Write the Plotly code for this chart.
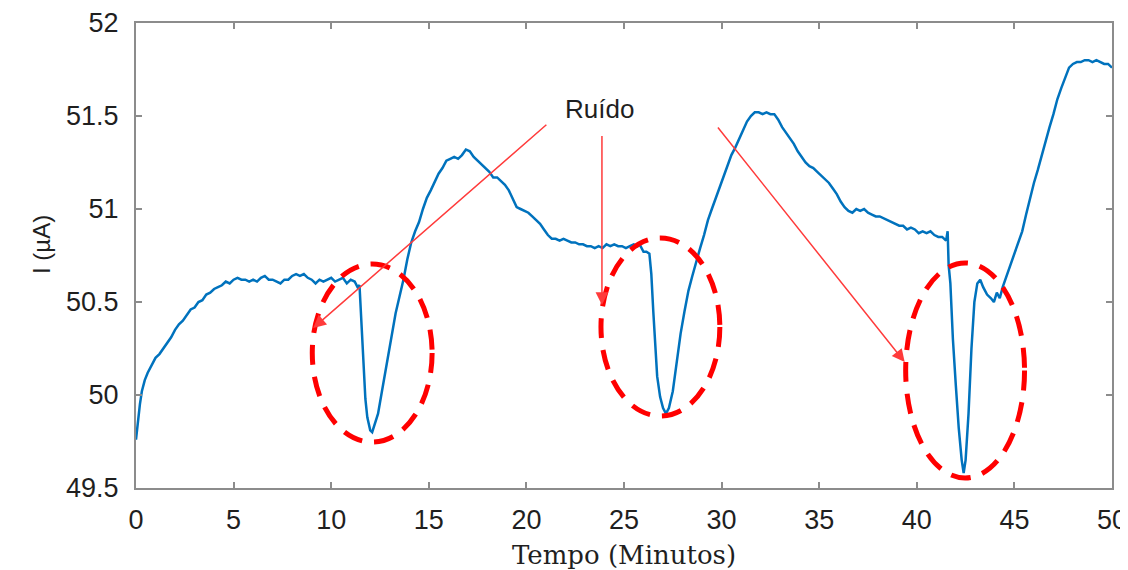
import plotly.graph_objects as go

# ---- data (time in minutes, current in µA) ----
tempo = [0, 0.1, 0.2, 0.3, 0.45, 0.6, 0.8, 1.0, 1.2, 1.4, 1.6, 1.8, 2.0, 2.2, 2.4, 2.6, 2.8, 3.0,
         3.2, 3.4, 3.6, 3.8, 4.0, 4.2, 4.4, 4.6, 4.8, 5.0, 5.2, 5.4, 5.6, 5.8, 6.0, 6.2, 6.4, 6.6,
         6.8, 7.0, 7.2, 7.4, 7.6, 7.8, 8.0, 8.2, 8.4, 8.6, 8.8, 9.0, 9.2, 9.4, 9.6, 9.8, 10.0, 10.2,
         10.4, 10.6, 10.8, 11.0, 11.2, 11.35, 11.45, 11.55, 11.65, 11.75, 11.85, 12.0, 12.1, 12.2,
         12.4, 12.6, 12.85, 13.1, 13.3, 13.5, 13.7, 13.9, 14.1, 14.3, 14.5, 14.7, 14.9, 15.1, 15.3,
         15.5, 15.7, 15.9, 16.1, 16.3, 16.5, 16.7, 16.9, 17.1, 17.3, 17.5, 17.7, 17.9, 18.1, 18.3,
         18.5, 18.7, 18.9, 19.1, 19.3, 19.5, 19.7, 19.9, 20.1, 20.3, 20.5, 20.7, 20.9, 21.1, 21.3,
         21.5, 21.7, 21.9, 22.1, 22.3, 22.5, 22.7, 22.9, 23.1, 23.3, 23.5, 23.7, 23.9, 24.1, 24.3,
         24.5, 24.7, 24.9, 25.1, 25.3, 25.5, 25.7, 25.8, 26.0, 26.15, 26.3, 26.4, 26.5, 26.6, 26.7,
         26.85, 27.0, 27.15, 27.3, 27.5, 27.7, 27.9, 28.1, 28.3, 28.5, 28.7, 28.9, 29.1, 29.3, 29.5,
         29.7, 29.9, 30.1, 30.3, 30.5, 30.7, 30.9, 31.1, 31.3, 31.5, 31.7, 31.9, 32.1, 32.3, 32.5,
         32.7, 32.9, 33.1, 33.3, 33.5, 33.7, 33.9, 34.1, 34.3, 34.5, 34.7, 34.9, 35.1, 35.3, 35.5,
         35.7, 35.9, 36.1, 36.3, 36.5, 36.7, 36.9, 37.1, 37.3, 37.5, 37.7, 37.9, 38.1, 38.3, 38.5,
         38.7, 38.9, 39.1, 39.3, 39.5, 39.7, 39.9, 40.1, 40.3, 40.5, 40.7, 40.9, 41.1, 41.3, 41.5,
         41.58, 41.63, 41.72, 41.85, 42.0, 42.15, 42.3, 42.4, 42.5, 42.65, 42.8, 42.95, 43.1, 43.25,
         43.4, 43.6, 43.8, 43.95, 44.1, 44.25, 44.4, 44.6, 44.8, 45.0, 45.2, 45.4, 45.6, 45.8, 46.0,
         46.2, 46.4, 46.6, 46.8, 47.0, 47.2, 47.4, 47.6, 47.8, 48.0, 48.2, 48.4, 48.6, 48.8, 49.0,
         49.2, 49.4, 49.6, 49.8, 50.0]

corrente = [49.76, 49.86, 49.95, 50.02, 50.08, 50.12, 50.16, 50.20, 50.22, 50.25, 50.28, 50.31,
            50.35, 50.38, 50.40, 50.43, 50.46, 50.47, 50.50, 50.51, 50.54, 50.55, 50.57, 50.58,
            50.59, 50.61, 50.60, 50.62, 50.63, 50.62, 50.62, 50.61, 50.62, 50.61, 50.63, 50.64,
            50.62, 50.62, 50.61, 50.60, 50.62, 50.62, 50.64, 50.65, 50.64, 50.65, 50.63, 50.62,
            50.60, 50.62, 50.61, 50.62, 50.63, 50.61, 50.62, 50.63, 50.60, 50.62, 50.61, 50.58,
            50.59, 50.40, 50.15, 49.98, 49.88, 49.81, 49.80, 49.83, 49.90, 50.02, 50.17, 50.33,
            50.44, 50.53, 50.62, 50.73, 50.82, 50.88, 50.93, 51.00, 51.06, 51.10, 51.15, 51.19,
            51.22, 51.26, 51.27, 51.28, 51.27, 51.29, 51.32, 51.31, 51.28, 51.26, 51.24, 51.22,
            51.20, 51.17, 51.17, 51.15, 51.13, 51.10, 51.05, 51.01, 51.00, 50.99, 50.98, 50.96,
            50.94, 50.92, 50.89, 50.86, 50.84, 50.84, 50.83, 50.84, 50.83, 50.82, 50.82, 50.81,
            50.81, 50.80, 50.80, 50.79, 50.80, 50.79, 50.81, 50.80, 50.81, 50.80, 50.80, 50.79,
            50.80, 50.81, 50.80, 50.81, 50.77, 50.77, 50.76, 50.65, 50.45, 50.25, 50.10, 49.99,
            49.93, 49.90, 49.93, 50.02, 50.17, 50.33, 50.45, 50.56, 50.64, 50.72, 50.79, 50.86,
            50.94, 51.00, 51.06, 51.12, 51.18, 51.23, 51.29, 51.33, 51.38, 51.43, 51.47, 51.50,
            51.52, 51.52, 51.51, 51.52, 51.51, 51.51, 51.48, 51.44, 51.41, 51.38, 51.35, 51.31,
            51.28, 51.25, 51.23, 51.22, 51.20, 51.18, 51.16, 51.14, 51.11, 51.08, 51.04, 51.01,
            50.99, 50.98, 51.00, 50.99, 51.00, 50.98, 50.97, 50.96, 50.96, 50.95, 50.94, 50.93,
            50.92, 50.91, 50.91, 50.89, 50.90, 50.89, 50.87, 50.88, 50.87, 50.88, 50.86, 50.85,
            50.85, 50.83, 50.88, 50.70, 50.60, 50.30, 50.05, 49.82, 49.65, 49.58, 49.65, 49.90,
            50.25, 50.50, 50.60, 50.62, 50.58, 50.54, 50.52, 50.50, 50.55, 50.52, 50.58, 50.64,
            50.71, 50.77, 50.83, 50.88, 50.97, 51.06, 51.14, 51.21, 51.29, 51.37, 51.44, 51.51,
            51.59, 51.65, 51.71, 51.76, 51.78, 51.79, 51.79, 51.80, 51.80, 51.79, 51.80, 51.79,
            51.78, 51.78, 51.76]

x_ticks = [0, 5, 10, 15, 20, 25, 30, 35, 40, 45, 50]
y_ticks = [49.5, 50, 50.5, 51, 51.5, 52]
y_tick_text = ["49.5", "50", "50.5", "51", "51.5", "52"]

# noise regions (ellipses): x0, x1, y0, y1 in data units
ellipse_x0 = [9.03, 23.82, 39.43]
ellipse_x1 = [15.17, 29.91, 45.52]
ellipse_y0 = [49.747, 49.887, 49.554]
ellipse_y1 = [50.704, 50.844, 50.71]

# arrows: tail (ax, ay) -> head (x, y)
arrow_tail_x = [21.1, 23.87, 29.75]
arrow_tail_y = [51.46, 51.40, 51.446]
arrow_head_x = [9.08, 23.87, 39.38]
arrow_head_y = [50.36, 50.484, 50.177]

label_text = "Ruído"
label_x = 23.72
label_y = 51.54

fig = go.Figure()
fig.add_trace(go.Scatter(x=tempo, y=corrente, mode="lines",
                         line=dict(color="#0072BD", width=2.5), showlegend=False))

for x0, x1, y0, y1 in zip(ellipse_x0, ellipse_x1, ellipse_y0, ellipse_y1):
    fig.add_shape(type="circle", xref="x", yref="y", x0=x0, x1=x1, y0=y0, y1=y1,
                  line=dict(color="#ff0000", width=5, dash="20px,12px"), layer="above")

for tx, ty, hx, hy in zip(arrow_tail_x, arrow_tail_y, arrow_head_x, arrow_head_y):
    fig.add_annotation(x=hx, y=hy, ax=tx, ay=ty, xref="x", yref="y", axref="x", ayref="y",
                       text="", showarrow=True, arrowhead=2, arrowsize=1.7,
                       arrowwidth=1.5, arrowcolor="#ff3b3b")

fig.add_annotation(x=label_x, y=label_y, xref="x", yref="y", text=label_text, showarrow=False,
                   font=dict(family="Liberation Sans, Arial, sans-serif", size=26, color="#1f1f1f"))

fig.add_annotation(x=-0.112, y=0.523, xref="paper", yref="paper", text="I (µA)", textangle=-90,
                   showarrow=False,
                   font=dict(family="Liberation Sans, Arial, sans-serif", size=24, color="#1f1f1f"))

axis_common = dict(showline=True, linecolor="#8c8c8c", linewidth=2, mirror="ticks",
                   ticks="inside", ticklen=6, tickwidth=1.5, tickcolor="#8c8c8c",
                   showgrid=False, zeroline=False, automargin=False, ticklabeloverflow="allow",
                   tickfont=dict(family="Liberation Sans, Arial, sans-serif", size=27, color="#1f1f1f"))

# the page body adds an 8px offset at top/left; sizes compensate for it
fig.update_layout(
    width=1120, height=562,
    margin=dict(l=128, r=16, t=15, b=82),
    paper_bgcolor="white", plot_bgcolor="white",
    xaxis=dict(range=[0, 50], tickvals=x_ticks, ticklabelstandoff=7,
               title=dict(text="Tempo (Minutos)", standoff=12,
                          font=dict(family="DejaVu Serif, serif", size=26, color="#1f1f1f")),
               **axis_common),
    yaxis=dict(range=[49.5, 52], tickvals=y_ticks, ticktext=y_tick_text, ticklabelstandoff=10,
               **axis_common),
)

fig.write_html("out.html")
